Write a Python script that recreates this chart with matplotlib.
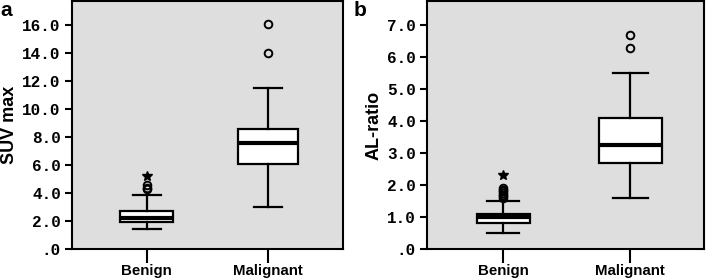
import matplotlib
matplotlib.use("Agg")
import matplotlib.pyplot as plt

categories = ["Benign", "Malignant"]

# Panel a: SUV max
suv_whislo = [1.4, 3.0]
suv_q1 = [1.9, 6.1]
suv_med = [2.25, 7.6]
suv_q3 = [2.7, 8.6]
suv_whishi = [3.9, 11.5]
suv_outliers = [[4.3, 4.4, 4.6], [14.0, 16.1]]
suv_extremes = [[5.2], []]
suv_ticks = [0, 2, 4, 6, 8, 10, 12, 14, 16]

# Panel b: AL-ratio
al_whislo = [0.5, 1.6]
al_q1 = [0.8, 2.7]
al_med = [1.0, 3.25]
al_q3 = [1.1, 4.1]
al_whishi = [1.5, 5.5]
al_outliers = [[1.6, 1.65, 1.7, 1.75, 1.8, 1.85, 1.9], [6.3, 6.7]]
al_extremes = [[2.3], []]
al_ticks = [0, 1, 2, 3, 4, 5, 6, 7]

BG = "#dedede"

def fmt(v):
    s = f"{v:.1f}"
    return s[1:] if s.startswith("0") else s

def draw(ax, lo, q1, med, q3, hi, outl, ext, ticks, ylim, xlim, widths, ylabel, letter, capw):
    stats = []
    for i in range(len(categories)):
        stats.append(dict(whislo=lo[i], q1=q1[i], med=med[i], q3=q3[i], whishi=hi[i],
                          fliers=outl[i], label=categories[i]))
    ax.bxp(stats, positions=[1, 2], widths=widths, patch_artist=True, capwidths=capw,
           boxprops=dict(facecolor="white", edgecolor="black", linewidth=1.6),
           medianprops=dict(color="black", linewidth=3.0),
           whiskerprops=dict(color="black", linewidth=1.6),
           capprops=dict(color="black", linewidth=1.6),
           flierprops=dict(marker="o", markerfacecolor="none", markeredgecolor="black",
                           markersize=5.5, markeredgewidth=1.4, linestyle="none"))
    for i, e in enumerate(ext):
        if e:
            ax.plot([i + 1] * len(e), e, linestyle="none", marker="*", color="black",
                    markersize=7)
    ax.set_facecolor(BG)
    ax.set_xlim(*xlim)
    ax.set_ylim(*ylim)
    ax.set_yticks(ticks)
    ax.set_yticklabels([fmt(t) for t in ticks], family="Liberation Mono",
                       fontweight="bold", fontsize=11.5)
    ax.set_xticks([1, 2])
    ax.set_xticklabels(categories, family="Liberation Sans", fontweight="bold",
                       fontsize=10.8)
    ax.tick_params(axis="y", length=5, width=1.5, pad=3)
    ax.tick_params(axis="x", length=10, width=1.5, pad=1)
    for s in ax.spines.values():
        s.set_linewidth(1.5)
    ax.set_ylabel(ylabel, family="Liberation Sans", fontweight="bold", fontsize=13,
                  labelpad=3)
    ax.text(-0.265, 1.0, letter, transform=ax.transAxes, family="Liberation Sans",
            fontweight="bold", fontsize=15, va="top", ha="left")

fig = plt.figure(figsize=(7.08, 2.79), dpi=100)
ax1 = fig.add_axes([72 / 708, 30 / 279, 271 / 708, 248 / 279])
ax2 = fig.add_axes([427 / 708, 30 / 279, 277 / 708, 248 / 279])

draw(ax1, suv_whislo, suv_q1, suv_med, suv_q3, suv_whishi, suv_outliers, suv_extremes,
     suv_ticks, (0, 17.75), (0.385, 2.62), [0.44, 0.5], "SUV max", "a", [0.23, 0.23])
draw(ax2, al_whislo, al_q1, al_med, al_q3, al_whishi, al_outliers, al_extremes,
     al_ticks, (0, 7.76), (0.4, 2.58), [0.42, 0.5], "AL-ratio", "b", [0.25, 0.28])

fig.savefig("out.png", dpi=100)
